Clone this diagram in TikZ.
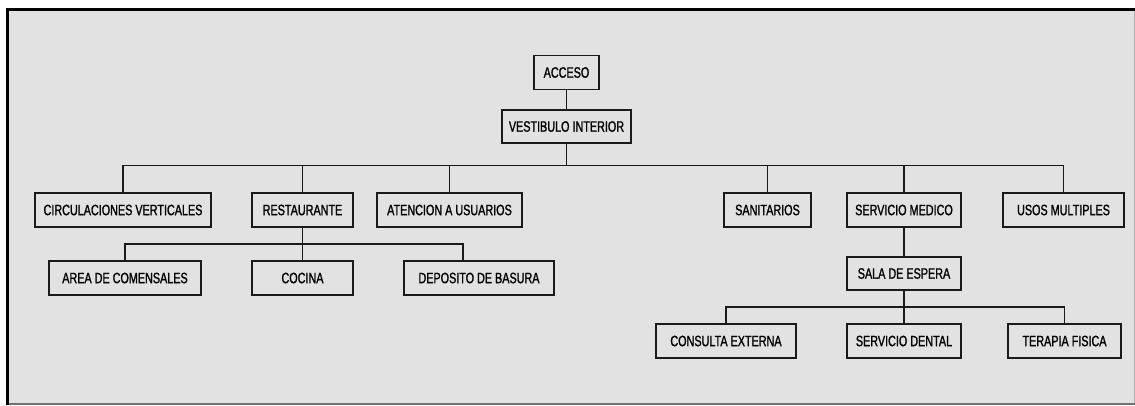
\documentclass[tikz,border=0pt]{standalone}
\usepackage{fontspec}
\setmainfont[FakeStretch=0.72,FakeBold=1.3]{Liberation Sans}
\definecolor{bgfill}{HTML}{E2E2E2}
\definecolor{edgegray}{HTML}{707070}
\definecolor{linecol}{HTML}{1A1A1A}
\tikzset{
  box/.style={draw=linecol, line width=1.2pt, fill=bgfill, inner sep=0pt, minimum height=34pt,
    font=\fontsize{15}{17}\selectfont, text=black, anchor=center},
  conn/.style={draw=linecol, line width=1.4pt}
}
\begin{document}
\begin{tikzpicture}[x=1pt,y=-1pt]
\useasboundingbox (0,0) rectangle (1135,405);
% frame
\fill[bgfill] (8,10) rectangle (1135,403);
\draw[edgegray, line width=2pt] (7,403.5) -- (1135,403.5);
\draw[black!30, line width=1pt] (1134.5,10) -- (1134.5,403);
\draw[black, line width=3pt] (7,8) -- (7,404.5);
\draw[black, line width=3pt] (5.5,9) -- (1135,9);

% nodes
\node[box, minimum width=65pt]  (acc)  at (566.5,72.5)  {ACCESO};
\node[box, minimum width=129pt, minimum height=33pt] (vest) at (566.5,126.5) {VESTIBULO INTERIOR};

\node[box, minimum width=176pt] (circ) at (123,210) {CIRCULACIONES VERTICALES};
\node[box, minimum width=101pt] (rest) at (302.5,210) {RESTAURANTE};
\node[box, minimum width=145pt] (aten) at (449.5,210) {ATENCION A USUARIOS};
\node[box, minimum width=87pt]  (sani) at (767.5,210) {SANITARIOS};
\node[box, minimum width=114pt] (smed) at (904,210) {SERVICIO MEDICO};
\node[box, minimum width=121pt] (usos) at (1063.5,210) {USOS MULTIPLES};

\node[box, minimum width=152pt] (area) at (125,278) {AREA DE COMENSALES};
\node[box, minimum width=101pt] (coci) at (302.5,278) {COCINA};
\node[box, minimum width=150pt] (depo) at (479,278) {DEPOSITO DE BASURA};

\node[box, minimum width=114pt, minimum height=33pt] (sala) at (904,273.5) {SALA DE ESPERA};

\node[box, minimum width=140pt] (cons) at (726,341) {CONSULTA EXTERNA};
\node[box, minimum width=114pt] (dent) at (904,341) {SERVICIO DENTAL};
\node[box, minimum width=113pt] (tera) at (1064.5,341) {TERAPIA FISICA};

% bus coordinates
\coordinate (b1) at (566.5,165.5);
\coordinate (b2) at (302.5,244);
\coordinate (b3) at (904,307);
\coordinate (depotop) at (463,261);

% connectors
\draw[conn] (acc.south) -- (vest.north);
\draw[conn] (vest.south) -- (b1);
\foreach \n in {circ,rest,aten,sani,smed,usos} {
  \draw[conn] (b1) -| (\n.north);
}
\draw[conn] (rest.south) -- (b2);
\draw[conn] (b2) -| (area.north);
\draw[conn] (b2) -- (coci.north);
\draw[conn] (b2) -| (depotop);
\draw[conn] (smed.south) -- (sala.north);
\draw[conn] (sala.south) -- (b3);
\draw[conn] (b3) -| (cons.north);
\draw[conn] (b3) -- (dent.north);
\draw[conn] (b3) -| (tera.north);
\end{tikzpicture}
\end{document}
